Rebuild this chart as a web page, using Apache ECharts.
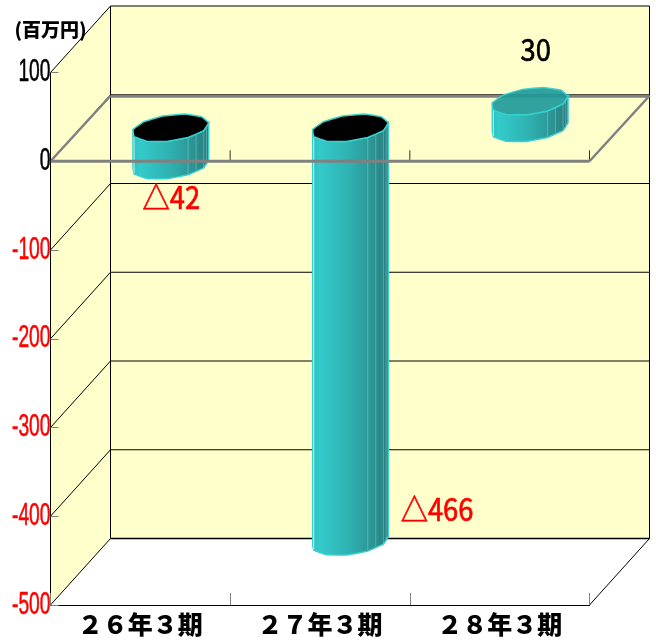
<!DOCTYPE html>
<html><head><meta charset="utf-8">
<style>html,body{margin:0;padding:0;background:#fff}#c{width:656px;height:641px}</style>
<script src="https://cdn.jsdelivr.net/npm/echarts@6/dist/echarts.min.js"></script>
</head><body><div id="c"></div>
<script>
const categories = ['２６年３期','２７年３期','２８年３期'];
const values = [-42,-466,30];
const valueLabels = ['△42','△466','30'];
const yTicks = [100,0,-100,-200,-300,-400,-500];
const unitLabel = '(百万円)';

const DX = 60, DY = -66.5;
const WALL = '#ffffcc', GRAY = '#808080';
const labelOffsets = [[1,32],[87,-32],[6,-52]];
const line = (x1,y1,x2,y2,stroke,w) => ({type:'line',shape:{x1,y1,x2,y2},style:{stroke,lineWidth:w,fill:null}});

function ellipsePts(cx,cy){
  // faceted ring with a slight ripple, like the reference cylinders
  const a=35.5,b=12.3,c=13.6,n=22,raw=[];
  for(let i=0;i<n;i++){
    const t=i*2*Math.PI/n+.1,r=1+(i%2?.022:-.012);
    raw.push([r*(a*Math.cos(t)+b*Math.sin(t)),-r*c*Math.sin(t)]);
  }
  let mn=0;
  raw.forEach((q,i)=>{if(q[0]<raw[mn][0])mn=i;});
  const rot=raw.slice(mn).concat(raw.slice(0,mn));
  const xs=rot.map(q=>q[0]);
  return {pts:rot.map(q=>[cx+q[0],cy+q[1]]),mx:xs.indexOf(Math.max.apply(null,xs))};
}

const chart = echarts.init(document.getElementById('c'));
chart.setOption({
  animation:false,
  grid:{left:50.5,right:66.5,top:72.5,bottom:36},
  xAxis:{type:'category',data:categories,z:10,
    axisLine:{show:true,onZero:false,lineStyle:{color:'#000',width:1}},
    axisTick:{show:true,inside:true,length:12,alignWithLabel:false,lineStyle:{color:GRAY,width:1}},
    axisLabel:{margin:7,color:'#000',fontSize:25,fontWeight:900,fontFamily:'Noto Sans CJK JP'},
    splitLine:{show:false}},
  yAxis:{type:'value',min:-500,max:100,interval:100,z:10,
    name:unitLabel,nameLocation:'end',nameGap:43,
    nameTextStyle:{color:'#000',fontSize:19,fontWeight:900,fontFamily:'Noto Sans CJK JP',align:'center',verticalAlign:'middle'},
    axisLine:{show:true,onZero:false,lineStyle:{color:'#000',width:1}},
    axisTick:{show:true,inside:true,length:8,lineStyle:{color:GRAY,width:1}},
    axisLabel:{show:false},splitLine:{show:false}},
  series:[
    {
      type:'custom',z:1,silent:true,data:[0],clip:false,
      renderItem(p,api){
        const g=p.coordSys,L=g.x,R=g.x+g.width,T=g.y,B=g.y+g.height,ch=[];
        const bl=L+DX,br=R+DX,bt=T+DY,bb=B+DY;
        ch.push({type:'rect',shape:{x:bl,y:bt,width:g.width,height:g.height},style:{fill:WALL}});
        ch.push({type:'polygon',shape:{points:[[L,T],[bl,bt],[bl,bb],[L,B]]},style:{fill:WALL}});
        ch.push({type:'polygon',shape:{points:[[L,B],[R,B],[br,bb],[bl,bb]]},style:{fill:'#fff'}});
        yTicks.forEach(v=>{
          const y=api.coord([0,v])[1];
          ch.push(line(L,y,bl,y+DY,'#000',1));
          ch.push(line(bl,y+DY,br,y+DY,'#000',v===-500?1.5:1));
        });
        ch.push(line(bl,bt,bl,bb,'#000',1));
        ch.push(line(br,bt,br,bb,'#000',1));
        ch.push(line(R,B,br,bb,'#000',1));
        const y0=api.coord([0,0])[1];
        ch.push(line(bl,y0+DY+1.5,br,y0+DY+1.5,GRAY,3));
        return {type:'group',children:ch};
      }
    },
    {
      type:'custom',z:3,silent:true,clip:false,
      data:values.map((v,i)=>[i,v]),
      renderItem(p,api){
        const i=api.value(0),v=api.value(1);
        const cx=api.coord([i,0])[0]+DX/2;
        const topY=api.coord([i,Math.max(v,0)])[1]+DY/2;
        const botY=api.coord([i,Math.min(v,0)])[1]+DY/2;
        const T=ellipsePts(cx,topY),Bt=ellipsePts(cx,botY),h=T.mx;
        const top=T.pts,bot=Bt.pts;
        const lowT=top.slice(0,h+1),lowB=bot.slice(0,h+1);
        const fill=new echarts.graphic.LinearGradient(0,0,1,0,[
          {offset:0,color:'#2cc0c0'},{offset:.1,color:'#33caca'},
          {offset:.5,color:'#2fb0b0'},{offset:.8,color:'#2b9292'},{offset:1,color:'#287c7c'}]);
        const ch=[{type:'polygon',shape:{points:lowT.concat(lowB.slice().reverse())},
          style:{fill,stroke:'#38d0d0',lineWidth:1.5}}];
        lowT.forEach((pt,k)=>{
          if(k===0||k===h) return;
          const o=k===2?.8:k>=h-4?.28:0;
          if(o) ch.push({type:'line',shape:{x1:pt[0],y1:pt[1]+1,x2:pt[0],y2:lowB[k][1]-1},
            style:{stroke:'#d8ffff',opacity:o,lineWidth:1}});
        });
        ch.push({type:'polygon',shape:{points:top},
          style:{fill:v<0?'#000':'#1f9a9a',opacity:v<0?1:.92,stroke:'#38d0d0',lineWidth:1.5}});
        return {type:'group',children:ch};
      }
    },
    {
      type:'custom',z:4,silent:true,data:[0],clip:false,
      renderItem(p,api){
        const g=p.coordSys,L=g.x,R=g.x+g.width,y=api.coord([0,0])[1],ch=[];
        [1,2,3].forEach(k=>{const x=L+k*g.width/3;ch.push(line(x,y-11,x,y,'#333',1));});
        ch.push(line(L,y,R,y,GRAY,3));
        ch.push(line(L,y,L+DX,y+DY+1,GRAY,2.5));
        ch.push(line(R,y,R+DX,y+DY+1,GRAY,2.5));
        return {type:'group',children:ch};
      }
    },
    {
      type:'custom',z:5,silent:true,clip:false,
      data:yTicks.map(v=>[0,v]),
      renderItem(p,api){
        const v=api.value(1),y=api.coord([0,v])[1],col=v<0?'#ff0000':'#000';
        return {type:'text',x:p.coordSys.x,y:y,scaleX:.62,
          style:{text:String(v),align:'right',verticalAlign:'middle',fontSize:31,
            fontFamily:'Liberation Sans',fill:col,stroke:col,lineWidth:.6}};
      }
    },
    {
      type:'custom',z:5,silent:true,clip:false,
      data:values.map((v,i)=>[i,v]),
      renderItem(p,api){
        const i=api.value(0),v=api.value(1),o=labelOffsets[i],col=v<0?'#ff0000':'#000';
        const cx=api.coord([i,0])[0]+DX/2;
        const y=api.coord([i,v])[1]+DY/2;
        return {type:'text',x:cx+o[0],y:y+o[1],scaleX:.88,
          style:{text:valueLabels[i],align:'center',verticalAlign:'middle',fontSize:31,
            fontFamily:'Noto Sans CJK JP',fill:col,stroke:col,lineWidth:.7}};
      }
    }
  ]
});
</script></body></html>
